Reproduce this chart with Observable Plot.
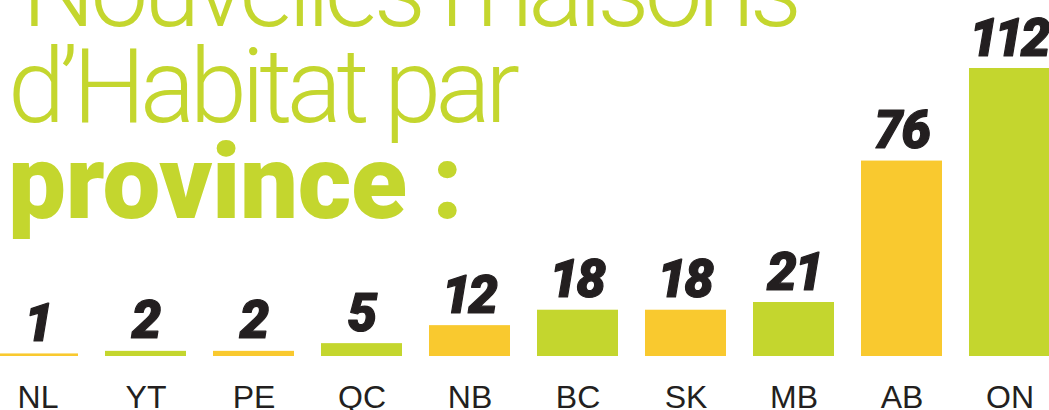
<!DOCTYPE html>
<html><head><meta charset="utf-8">
<script src="https://cdn.jsdelivr.net/npm/d3@7"></script>
<script src="https://cdn.jsdelivr.net/npm/@observablehq/plot@0.6"></script>
<style>
html,body{margin:0;padding:0;background:#fff;}
#wrap{position:relative;width:1049px;height:410px;overflow:hidden;}
#title{position:absolute;left:0;top:0;pointer-events:none;}
g.vlabel text{font-variant-numeric:proportional-nums;font-feature-settings:"pnum" 1;letter-spacing:-1px;}
</style></head><body>
<div id="wrap"><div id="chart"></div>
<svg id="title" width="1049" height="410">
  <text x="22" y="26" textLength="780" lengthAdjust="spacing" fill="#c4d62e" font-family="Roboto, 'Liberation Sans', sans-serif" font-weight="300" font-size="103">Nouvelles maisons</text>
  <text x="8" y="122" textLength="512" lengthAdjust="spacing" fill="#c4d62e" font-family="Roboto, 'Liberation Sans', sans-serif" font-weight="300" font-size="103">d’Habitat par</text>
  <text x="8" y="218" textLength="455" lengthAdjust="spacing" fill="#c4d62e" font-family="Roboto, 'Liberation Sans', sans-serif" font-weight="900" font-size="103">province :</text>
</svg>
</div>
<script>
const provinces = ["NL","YT","PE","QC","NB","BC","SK","MB","AB","ON"];
const values = [1,2,2,5,12,18,18,21,76,112];
const barColors = ["#f9c92f","#c4d62e","#f9c92f","#c4d62e","#f9c92f","#c4d62e","#f9c92f","#c4d62e","#f9c92f","#c4d62e"];
const data = provinces.map((p,i)=>({province:p, value:values[i], color:barColors[i]}));

const chart = Plot.plot({
  width: 1049,
  height: 410,
  marginTop: 68, marginBottom: 54, marginLeft: 0, marginRight: 0,
  style: {background: "transparent", overflow: "visible"},
  x: {domain: provinces, range: [-3, 1050], paddingInner: 0.25, paddingOuter: 0, label: null},
  y: {domain: [0, 112], axis: null},
  marks: [
    Plot.barY(data, {x: "province", y: "value", fill: "color"}),
    Plot.text(data, {x: "province", y: "value", text: d => String(d.value), lineAnchor: "bottom", dy: -13,
      fontSize: 53, fontWeight: 900, fontStyle: "italic", fill: "#231f20",
      stroke: "#231f20", strokeWidth: 1.2,
      fontFamily: "Roboto, 'Liberation Sans', sans-serif", className: "vlabel"}),
    Plot.axisX({tickSize: 0, tickPadding: 29, fontSize: 32, label: null,
      fontFamily: "'Liberation Sans', Arial, sans-serif", fill: "#231f20"})
  ]
});
chart.style.fontFamily = "'Liberation Sans', Arial, sans-serif";
document.getElementById("chart").appendChild(chart);
</script>
</body></html>
